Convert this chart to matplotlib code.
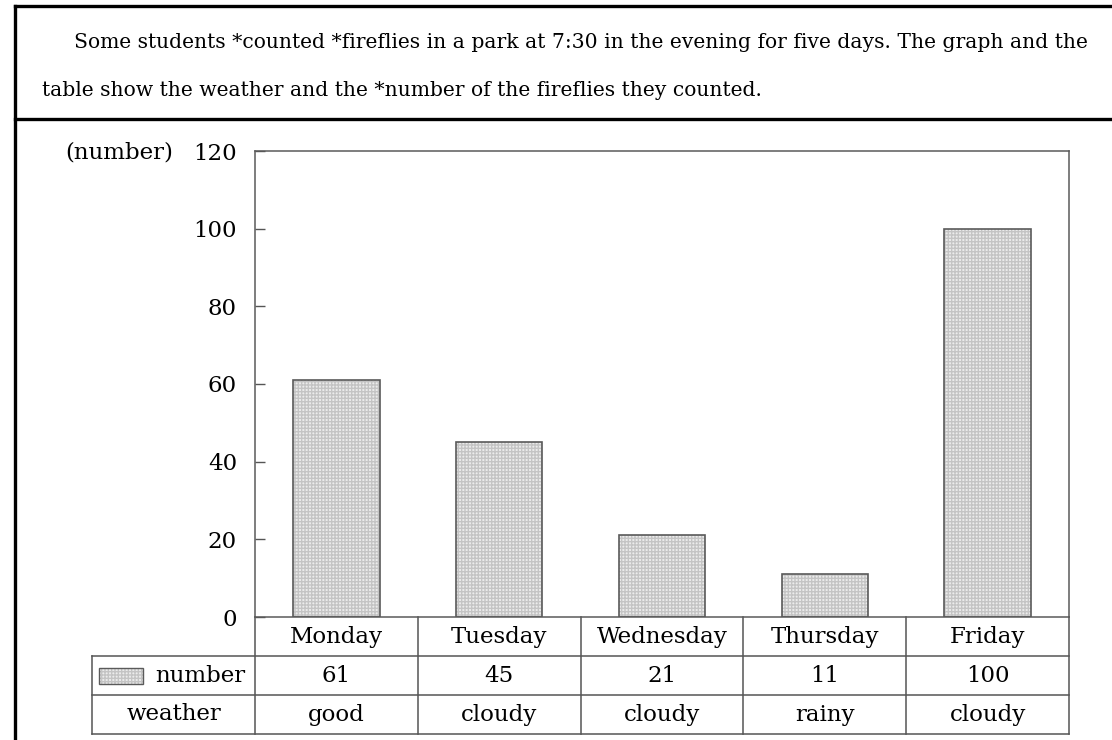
import matplotlib
matplotlib.use("Agg")
import matplotlib.pyplot as plt
from matplotlib.lines import Line2D
from matplotlib.patches import Rectangle

# data
days = ["Monday", "Tuesday", "Wednesday", "Thursday", "Friday"]
counts = [61, 45, 21, 11, 100]
weather = ["good", "cloudy", "cloudy", "rainy", "cloudy"]
yticks = [0, 20, 40, 60, 80, 100, 120]

header1 = "Some students *counted *fireflies in a park at 7:30 in the evening for five days. The graph and the"
header2 = "table show the weather and the *number of the fireflies they counted."

W, H = 1112, 740
plt.rcParams['font.family'] = ['DejaVu Serif']

def fx(px):
	return px / float(W)

def fy(py):
	return 1 - py / float(H)

fig = plt.figure(figsize=(W / 100.0, H / 100.0), dpi=100)

#############################################################################
# OUTER FRAME AND HEADER
#############################################################################
frame = dict(color='black', linewidth=2.4, transform=fig.transFigure)
fig.add_artist(Line2D([fx(15), fx(15)], [fy(6), fy(H + 5)], **frame))
fig.add_artist(Line2D([fx(15), fx(W + 5)], [fy(6), fy(6)], **frame))
fig.add_artist(Line2D([fx(15), fx(W + 5)], [fy(119), fy(119)], **frame))

fig.text(fx(74), fy(42), header1, fontsize=14.6, va='center', ha='left')
fig.text(fx(42), fy(90), header2, fontsize=14.6, va='center', ha='left')

#############################################################################
# BAR CHART
#############################################################################
ax_l, ax_r, ax_t, ax_b = 255, 1069, 151, 617
ax = fig.add_axes([fx(ax_l), fy(ax_b), fx(ax_r - ax_l), (ax_b - ax_t) / float(H)])

x = list(range(len(days)))
ax.bar(x, counts, width=0.53, color='#ececec', edgecolor='#c4c4c4', hatch='+++++', linewidth=0, zorder=2)
ax.bar(x, counts, width=0.53, fill=False, edgecolor='#5a5a5a', linewidth=1.2, zorder=3)

ax.set_xlim(-0.5, len(days) - 0.5)
ax.set_ylim(0, 120)
ax.set_yticks(yticks)
ax.set_yticklabels([str(t) for t in yticks], fontsize=16.5)
ax.set_xticks([])
ax.tick_params(axis='y', direction='in', length=7, width=1, color='#555555', pad=13)
for s in ax.spines.values():
	s.set_color('#5a5a5a')
	s.set_linewidth(1.1)

fig.text(fx(173), fy(152), "(number)", fontsize=16.5, ha='right', va='center')

#############################################################################
# TABLE UNDER THE AXES
#############################################################################
tr = ax.get_xaxis_transform()
rh = 39.0 / (ax_b - ax_t)
lc = dict(color='#555555', linewidth=1.1, transform=tr, clip_on=False)

# horizontal lines
ax.add_line(Line2D([-1.5, len(days) - 0.5], [-rh, -rh], **lc))
ax.add_line(Line2D([-1.5, len(days) - 0.5], [-2 * rh, -2 * rh], **lc))
ax.add_line(Line2D([-1.5, len(days) - 0.5], [-3 * rh, -3 * rh], **lc))
# vertical lines
ax.add_line(Line2D([-1.5, -1.5], [-rh, -3 * rh], **lc))
for i in range(len(days) + 1):
	ax.add_line(Line2D([i - 0.5, i - 0.5], [0, -3 * rh], **lc))

for i in range(len(days)):
	ax.text(i, -0.5 * rh, days[i], transform=tr, ha='center', va='center', fontsize=16.5)
	ax.text(i, -1.5 * rh, str(counts[i]), transform=tr, ha='center', va='center', fontsize=16.5)
	ax.text(i, -2.5 * rh, weather[i], transform=tr, ha='center', va='center', fontsize=16.5)

# legend swatch + row labels
sw_h = 16.0 / (ax_b - ax_t)
ax.add_patch(Rectangle((-1.457, -1.5 * rh - sw_h / 2), 0.27, sw_h, transform=tr, clip_on=False,
	facecolor='#ececec', edgecolor='#c4c4c4', hatch='+++++', linewidth=0))
ax.add_patch(Rectangle((-1.457, -1.5 * rh - sw_h / 2), 0.27, sw_h, transform=tr, clip_on=False,
	fill=False, edgecolor='#5a5a5a', linewidth=1.0))
ax.text(-0.56, -1.5 * rh, "number", transform=tr, ha='right', va='center', fontsize=16.5)
ax.text(-1.0, -2.5 * rh, "weather", transform=tr, ha='center', va='center', fontsize=16.5)

fig.savefig("out.png", dpi=100)
